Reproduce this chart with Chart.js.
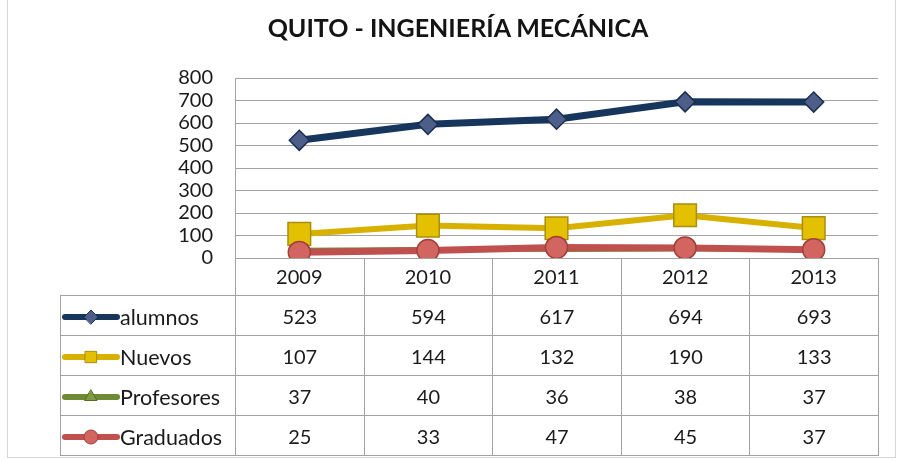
<!DOCTYPE html>
<html lang="es">
<head>
<meta charset="utf-8">
<title>Quito - Ingeniería Mecánica</title>
<script src="https://cdn.jsdelivr.net/npm/chart.js@4.4.1/dist/chart.umd.min.js"></script>
<style>
  html, body { margin: 0; padding: 0; background: #fff; }
  #wrap { position: relative; width: 902px; height: 462px; overflow: hidden; font-family: Lato, "Open Sans", sans-serif; }
  #frame { position: absolute; left: 7px; top: -2px; width: 889px; height: 460px; border: 1px solid #d6d6d6; box-sizing: border-box; }
  #title { position: absolute; left: 0; top: 12px; width: 916px; text-align: center; font: bold 25px/30px Lato, sans-serif; color: #141414; }
  #chart { position: absolute; left: 0; top: 0; }
  #dataTable { position: absolute; border-collapse: collapse; table-layout: fixed; }
  #dataTable td { border: 1px solid #a2a2a2; text-align: center; font-size: 20px; color: #1a1a1a; padding: 0; white-space: nowrap; }
  #dataTable td.blank { border: none; }
  #dataTable td.series { text-align: left; font-size: 21.5px; }
  #dataTable td.series canvas { vertical-align: middle; margin-left: 1px; }
  #dataTable td.series span { vertical-align: middle; margin-left: 0; }
</style>
</head>
<body>
<div id="wrap">
  <div id="frame"></div>
  <canvas id="chart" width="902" height="462"></canvas>
  <div id="title">QUITO - INGENIERÍA MECÁNICA</div>
  <table id="dataTable"></table>
</div>
<script>
// categories and series values
const years = ['2009', '2010', '2011', '2012', '2013'];
const alumnos = [523, 594, 617, 694, 693];
const nuevos = [107, 144, 132, 190, 133];
const profesores = [37, 40, 36, 38, 37];
const graduados = [25, 33, 47, 45, 37];

// value axis range
const yMin = 0;
const yMax = 800;
const yStep = 100;

Chart.defaults.font.family = 'Lato, "Open Sans", sans-serif';
Chart.defaults.color = '#1a1a1a';

const series = [
  { label: 'alumnos', data: alumnos, line: '#17365d', fill: '#4d5f88', border: '#1c2f52', style: 'rectRot', radius: 10, width: 7, order: 3 },
  { label: 'Nuevos', data: nuevos, line: '#d8b100', fill: '#e3c000', border: '#a98e10', style: 'rect', radius: 16, width: 6, order: 2 },
  { label: 'Profesores', data: profesores, line: '#6f8a35', fill: '#7f9a3f', border: '#566c28', style: 'triangle', radius: 6, width: 4, order: 1 },
  { label: 'Graduados', data: graduados, line: '#c0504d', fill: '#d36560', border: '#a0403c', style: 'circle', radius: 11, width: 7, order: 0 },
];

const PLOT_LEFT = 235;
const PLOT_RIGHT = 878;
const PLOT_TOP = 78;
const PLOT_BOTTOM = 258;

const chart = new Chart(document.getElementById('chart'), {
  type: 'line',
  data: {
    labels: years,
    datasets: series.map(s => ({
      label: s.label,
      data: s.data,
      order: s.order,
      borderColor: s.line,
      borderWidth: s.width,
      backgroundColor: s.fill,
      pointStyle: s.style,
      pointRadius: s.radius,
      pointBackgroundColor: s.fill,
      pointBorderColor: s.border,
      pointBorderWidth: 1.5,
      tension: 0,
      fill: false,
    })),
  },
  options: {
    responsive: false,
    animation: false,
    events: [],
    layout: {
      padding: { left: 0, right: 902 - PLOT_RIGHT, top: PLOT_TOP, bottom: 462 - PLOT_BOTTOM - 40 },
    },
    plugins: {
      legend: { display: false },
      title: { display: false },
      tooltip: { enabled: false },
    },
    scales: {
      x: {
        offset: true,
        grid: { display: false, drawTicks: false },
        border: { display: true, color: '#a2a2a2', width: 1 },
        ticks: { font: { size: 20 }, padding: 8, color: '#1a1a1a' },
        afterFit: (scale) => { scale.height = 40; },
      },
      y: {
        min: yMin,
        max: yMax,
        grid: { color: '#a2a2a2', lineWidth: 1, drawTicks: false },
        border: { display: true, color: '#a2a2a2', width: 1 },
        ticks: { stepSize: yStep, autoSkip: false, font: { size: 20 }, padding: 22, color: '#1a1a1a' },
        afterFit: (scale) => { scale.width = PLOT_LEFT; },
      },
    },
  },
});

// data table under the plot, columns lined up with the category axis
function buildTable() {
  const area = chart.chartArea;
  const table = document.getElementById('dataTable');
  const legendLeft = 60;
  const firstCol = area.left - legendLeft;
  const colW = (area.right - area.left) / years.length;

  table.style.left = legendLeft + 'px';
  table.style.top = area.bottom + 'px';
  table.style.width = (area.right - legendLeft) + 'px';

  const colgroup = document.createElement('colgroup');
  [firstCol, ...years.map(() => colW)].forEach(w => {
    const col = document.createElement('col');
    col.style.width = w + 'px';
    colgroup.appendChild(col);
  });
  table.appendChild(colgroup);

  // header row: year labels come from the chart's x axis
  const head = document.createElement('tr');
  head.style.height = '37px';
  const blank = document.createElement('td');
  blank.className = 'blank';
  head.appendChild(blank);
  years.forEach(() => head.appendChild(document.createElement('td')));
  table.appendChild(head);

  series.forEach(s => {
    const tr = document.createElement('tr');
    tr.style.height = '40px';
    const name = document.createElement('td');
    name.className = 'series';
    const key = document.createElement('canvas');
    key.width = 58;
    key.height = 22;
    drawKey(key, s);
    const text = document.createElement('span');
    text.textContent = s.label;
    name.appendChild(key);
    name.appendChild(text);
    tr.appendChild(name);
    s.data.forEach(v => {
      const td = document.createElement('td');
      td.textContent = v;
      tr.appendChild(td);
    });
    table.appendChild(tr);
  });
}

function drawKey(canvas, s) {
  const ctx = canvas.getContext('2d');
  const y = canvas.height / 2;
  ctx.strokeStyle = s.line;
  ctx.lineWidth = 6;
  ctx.lineCap = 'round';
  ctx.beginPath();
  ctx.moveTo(3, y);
  ctx.lineTo(canvas.width - 3, y);
  ctx.stroke();
  ctx.fillStyle = s.fill;
  ctx.strokeStyle = s.border;
  ctx.lineWidth = 1;
  Chart.helpers.drawPoint(ctx, {
    pointStyle: s.style,
    radius: s.style === 'rect' ? 8 : 7,
    rotation: 0,
    borderWidth: 1,
  }, canvas.width / 2, y);
}

buildTable();
</script>
</body>
</html>
